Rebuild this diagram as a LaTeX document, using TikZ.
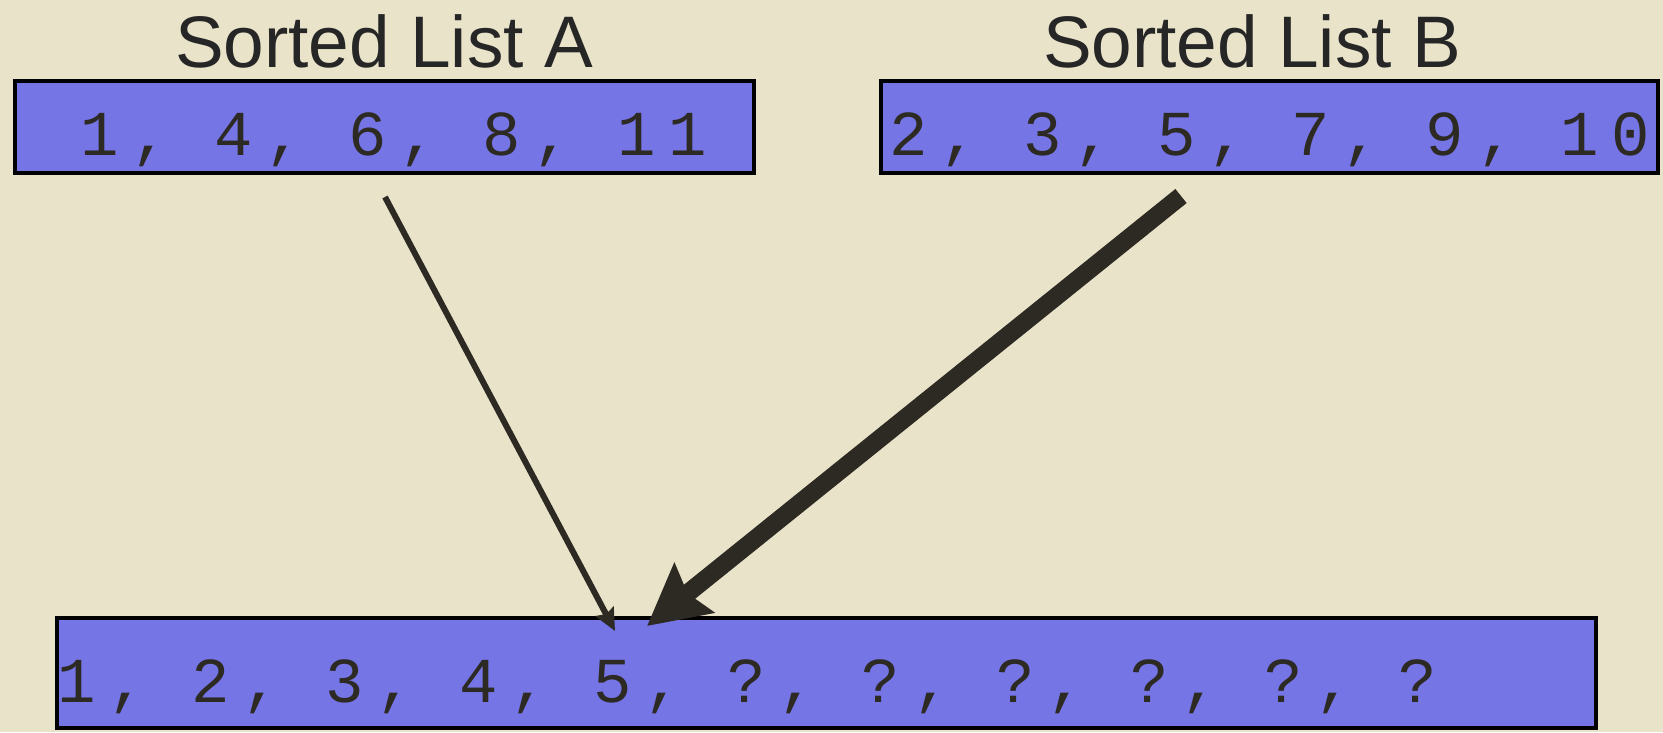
\documentclass[tikz,border=0pt]{standalone}
\usepackage{fontspec}
\setmainfont{Liberation Sans}
\newfontfamily\listfont{Liberation Mono}[LetterSpace=19.8]
\usetikzlibrary{positioning,arrows.meta,calc}
\definecolor{slideBeige}{HTML}{E9E3CA}
\definecolor{listBlue}{HTML}{7575E6}
\definecolor{inkDark}{HTML}{2D2A24}

\begin{document}
\begin{tikzpicture}[
        x=1pt, y=-1pt,
        title/.style={font=\fontsize{73}{80}\selectfont, text=black!85, anchor=base, inner sep=0pt},
        listbox/.style={draw=black, line width=4pt, fill=listBlue, font={\listfont\fontsize{64}{70}\selectfont\spaceskip=44.7pt\relax}, text=inkDark, text height=60pt, text depth=4pt, inner sep=0pt},
        ptr/.style={draw=inkDark, line width=6pt, -{Stealth[length=22pt, width=20pt, inset=3pt]}},
        bigptr/.style={draw=inkDark, line width=18pt, -{Stealth[length=60pt, width=62pt, inset=8pt]}}
    ]
        % slide background
        \fill[slideBeige] (0,0) rectangle (1663,732);
        \useasboundingbox (0,0) rectangle (1663,732);

        % the two input lists
        \node[title] (titleA) at (384,67) {Sorted List A};
        \node[title] (titleB) at (1252,67) {Sorted List B};
        \node[listbox, minimum width=739pt, minimum height=92pt] (listA) at (384.5,127) {\hspace{18pt}1, 4, 6, 8, 11};
        \node[listbox, minimum width=777pt, minimum height=92pt] (listB) at (1269.5,127) {2, 3, 5, 7, 9, 10};

        % merged output
        \node[listbox, minimum width=1539pt, minimum height=110pt, text height=62pt] (merged) at (826.5,673) {\makebox[1539pt][l]{1, 2, 3, 4, 5, ?, ?, ?, ?, ?, ?}};

        % pointers into the output
        \coordinate (fromA) at ($(listA.south)+(0.5,22)$);
        \coordinate (fromB) at ($(listB.south)+(-88.5,21)$);
        \coordinate (intoA) at ($(merged.north west)+(560,15)$);
        \coordinate (intoB) at ($(merged.north west)+(592,10)$);
        \draw[ptr] (fromA) -- (intoA);
        \draw[bigptr] (fromB) -- (intoB);
    \end{tikzpicture}
\end{document}
